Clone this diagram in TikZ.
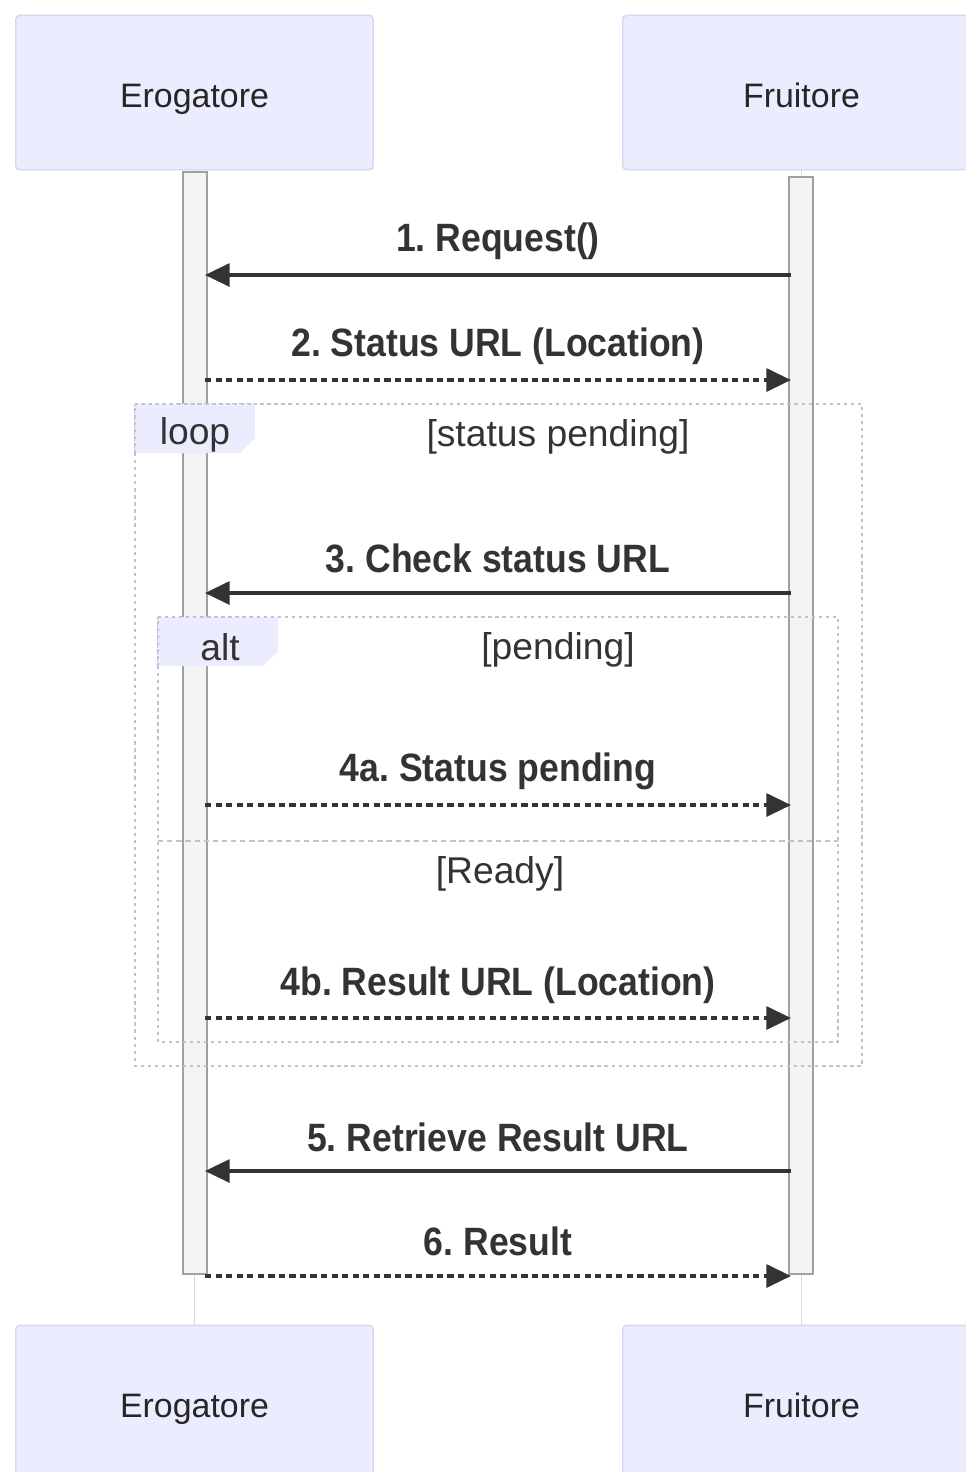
\documentclass[tikz,border=0pt]{standalone}
\usepackage{fontspec}
\setmainfont{Liberation Sans}
\newfontfamily\msgfont{Liberation Sans}[FakeStretch=0.9]
\usepackage{tikz}
\usetikzlibrary{arrows.meta}
\frenchspacing

\definecolor{actorfill}{HTML}{ECECFF}
\definecolor{actorline}{HTML}{D6D6EE}
\definecolor{framecol}{HTML}{C0C0D8}
\definecolor{barfill}{HTML}{F4F4F4}
\definecolor{barline}{HTML}{A0A0A0}
\definecolor{ink}{HTML}{333333}

\tikzset{
    actor/.style={fill=actorfill,draw=actorline,line width=0.8pt,rounded corners=2.3pt,
        minimum width=203.5pt,minimum height=87.9pt,inner sep=0pt,
        text height=16.6pt,text depth=0pt,
        font=\fontsize{19.3pt}{23pt}\selectfont,text=black!85},
    bar/.style={fill=barfill,draw=barline,line width=1.3pt,minimum width=13.6pt,inner sep=0pt},
    lifeline/.style={draw=black!15,line width=0.9pt},
    msg/.style={font=\msgfont\bfseries\fontsize{22.5pt}{26pt}\selectfont,text=ink,inner sep=0pt},
    guard/.style={font=\fontsize{21.2pt}{25pt}\selectfont,text=ink,inner sep=0pt},
    frame/.style={draw=framecol,line width=1.4pt,dash pattern=on 1.8pt off 2.2pt},
    tab/.style={fill=actorfill,draw=none},
    call/.style={draw=ink,line width=2pt,-{Triangle[length=14pt,width=13pt]}},
    reply/.style={call,dash pattern=on 3.6pt off 2.4pt}
}

\begin{document}
\begin{tikzpicture}[x=0.02cm,y=-0.02cm]
    \clip (0,0) rectangle (966,1472);
    \fill[white] (0,0) rectangle (966,1472);

    \begin{scope}[every node/.style={actor}]
        \node (ero) at (194.5,92.5) {Erogatore};
        \node (fru) at (801.5,92.5) {Fruitore};
        \node (erob) at (194.5,1402.5) {Erogatore};
        \node (frub) at (801.5,1402.5) {Fruitore};
    \end{scope}

    \path[lifeline] (ero) -- (erob);
    \path[lifeline] (fru) -- (frub);

    \node[bar,minimum height=627pt] (bare) at (195,723) {};
    \node[bar,minimum height=624.2pt] (barf) at (801,725.5) {};

    \draw[frame] (135,404) rectangle (862,1066);
    \fill[tab] (135,404) -- (255,404) -- (255,438) -- (240,453) -- (135,453) -- cycle;
    \draw[frame] (135,453) -- (135,404) -- (255,404);
    \node[guard] (loop) at (195,435) {loop};
    \node[guard] (cond1) at (558,437) {[status pending]};

    \draw[frame] (158,617) rectangle (838,1042);
    \fill[tab] (158,617) -- (278,617) -- (278,651) -- (263,666) -- (158,666) -- cycle;
    \draw[frame] (158,666) -- (158,617) -- (278,617);
    \node[guard] (alt) at (220,647) {alt};
    \node[guard] (cond2) at (558,650) {[pending]};
    \draw[frame,dash pattern=on 3pt off 2.2pt] (158,841) -- (838,841);
    \node[guard] (cond3) at (500,874) {[Ready]};

    \foreach \n/\y in {1/275,2/380,3/593,4/805,5/1018,6/1171,7/1276} {
        \coordinate (e\n) at (205,\y);
        \coordinate (f\n) at (791,\y);
    }

    \begin{scope}[every node/.style={msg}]
        \node (m1) at (498,241) {1. Request()};
        \node (m2) at (498,346) {2. Status URL (Location)};
        \node (m3) at (498,558) {3. Check status URL};
        \node (m4) at (498,771) {4a. Status pending};
        \node (m5) at (498,985) {4b. Result URL (Location)};
        \node (m6) at (498,1137) {5. Retrieve Result URL};
        \node (m7) at (498,1241) {6. Result};
    \end{scope}

    \path (f1) edge[call] (e1);
    \path (e2) edge[reply] (f2);
    \path (f3) edge[call] (e3);
    \path (e4) edge[reply] (f4);
    \path (e5) edge[reply] (f5);
    \path (f6) edge[call] (e6);
    \path (e7) edge[reply] (f7);
\end{tikzpicture}
\end{document}
